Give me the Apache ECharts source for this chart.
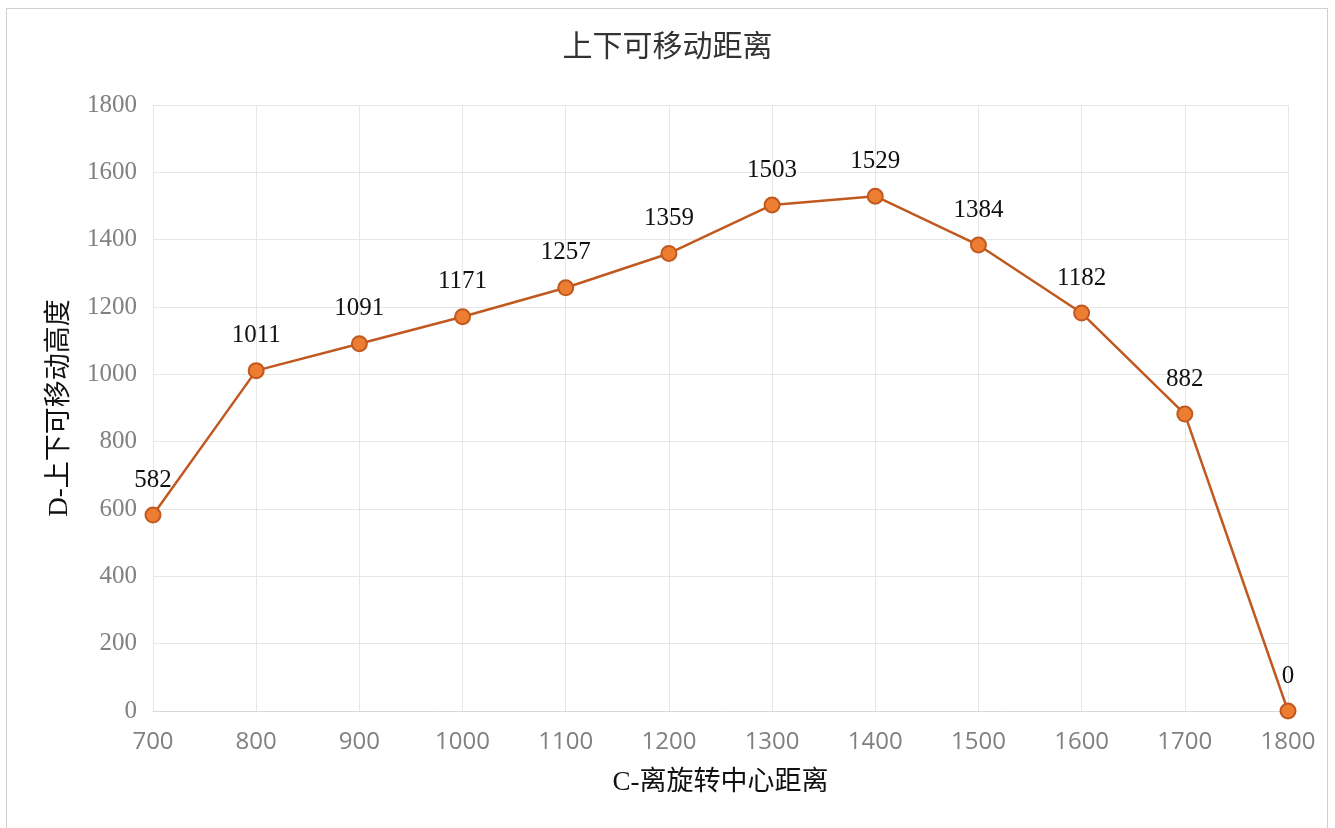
<!DOCTYPE html>
<html><head><meta charset="utf-8">
<script src="https://cdn.jsdelivr.net/npm/echarts@6/dist/echarts.min.js"></script>
<style>html,body{margin:0;padding:0;background:#fff}#frame{position:absolute;left:6px;top:8px;width:1322px;height:830px;border:1.5px solid #d0d0d0;box-sizing:border-box}#c{position:absolute;left:0;top:0;width:1335px;height:828px}</style>
</head><body><div id="frame"></div><div id="c"></div>
<script>
const xValues = [700, 800, 900, 1000, 1100, 1200, 1300, 1400, 1500, 1600, 1700, 1800];
const yValues = [582, 1011, 1091, 1171, 1257, 1359, 1503, 1529, 1384, 1182, 882, 0];
const chartTitle = '上下可移动距离';
const xName = 'C-离旋转中心距离';
const yName = 'D-上下可移动高度';

const chart = echarts.init(document.getElementById('c'), null, {renderer: 'canvas'});
const serif = '"Liberation Serif", "Noto Sans CJK SC", serif';
chart.setOption({
  animation: false,
  title: {text: chartTitle, left: 'center', top: 28, textStyle: {fontSize: 30, fontWeight: 'normal', color: '#333', fontFamily: serif}},
  grid: {left: 153, right: 47, top: 105, bottom: 117},
  xAxis: {
    type: 'value', min: 700, max: 1800, interval: 100,
    name: xName, nameLocation: 'middle', nameGap: 58,
    nameTextStyle: {fontSize: 27, color: '#111', fontFamily: serif},
    axisLine: {show: true, lineStyle: {color: '#d9d9d9', width: 1}},
    axisTick: {show: false},
    axisLabel: {fontSize: 24, color: '#808080', margin: 19, fontFamily: '"Open Sans", "Noto Sans", sans-serif',
      formatter: v => String(v)},
    splitLine: {show: true, lineStyle: {color: '#e6e6e6', width: 1}}
  },
  yAxis: {
    type: 'value', min: 0, max: 1800, interval: 200,
    name: yName, nameLocation: 'middle', nameGap: 80, nameRotate: 90,
    nameTextStyle: {fontSize: 27, color: '#111', fontFamily: serif},
    axisLine: {show: false},
    axisTick: {show: false},
    axisLabel: {fontSize: 25, color: '#808080', margin: 16, fontFamily: serif,
      formatter: v => String(v)},
    splitLine: {show: true, lineStyle: {color: '#e6e6e6', width: 1}}
  },
  series: [{
    type: 'line',
    data: xValues.map((x, i) => [x, yValues[i]]),
    symbol: 'circle', symbolSize: 15,
    lineStyle: {color: '#C0591F', width: 2.5},
    itemStyle: {color: '#ED7D31', borderColor: '#C0591F', borderWidth: 2},
    label: {show: true, position: 'top', distance: 14, fontSize: 25, color: '#111', fontFamily: serif,
      formatter: p => p.value[1]}
  }]
});
</script></body></html>
